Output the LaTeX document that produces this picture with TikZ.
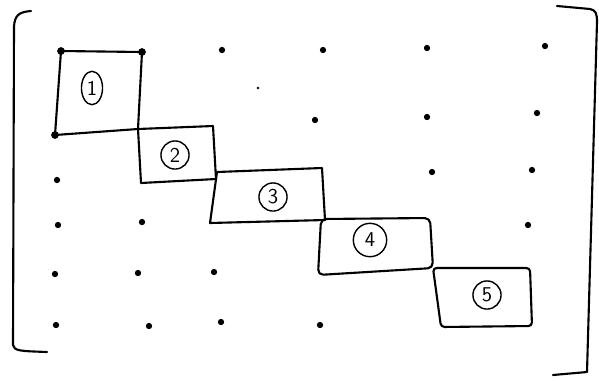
\documentclass[tikz,border=0pt]{standalone}
\usepackage{tikz}
\usetikzlibrary{shapes.geometric}

\begin{document}
\begin{tikzpicture}[x=0.02cm, y=-0.02cm,
    pen/.style={line width=1.2pt, line join=round, line cap=round},
    entry/.style={circle, fill, inner sep=0pt, minimum size=3.6pt},
    blocklabel/.style={draw, circle, line width=0.8pt, inner sep=1pt, minimum size=16pt, font=\sffamily\large}]
        \useasboundingbox (0,0) rectangle (599,380);
        % brackets of the matrix
        \draw[pen] (31,11) .. controls (18,12) and (15,16) .. (14,26) -- (13,345) .. controls (14,351) and (20,351) .. (47,352);
        \draw[pen] (557,6) -- (590,9) .. controls (596,10) and (597,14) .. (597,22) -- (587,372) -- (553,375);
        % diagonal blocks
        \draw[pen] (61,51) -- (142,52) -- (138,129) -- (55,135) -- cycle;
        \draw[pen] (138,129) -- (213,126) -- (216,179) -- (141,183) -- cycle;
        \draw[pen] (217,172) -- (322,168) -- (325,220) -- (210,223) -- cycle;
        \draw[pen, rounded corners=3pt] (321,219) -- (430,218) -- (433,268) -- (318,275) -- cycle;
        \draw[pen, rounded corners=2pt] (433,268) -- (530,268) -- (532,326) -- (441,327) -- cycle;
        \node[blocklabel, ellipse, minimum width=12pt, minimum height=19pt] (b1) at (92,88) {1};
        \node[blocklabel] (b2) at (175,155) {2};
        \node[blocklabel] (b3) at (273,197) {3};
        \node[blocklabel, minimum width=19pt] (b4) at (370,240) {4};
        \node[blocklabel] (b5) at (487,295) {5};
        % corner marks of the first block
        \foreach \p in {(61,51), (142,52), (55,135)}
          \fill \p circle (2.2pt);
        % remaining entries
        \foreach \p in {(222,50), (323,50), (427,48), (545,46),
                        (315,120), (427,117), (537,113),
                        (57,180), (432,172), (532,170),
                        (58,225), (142,222), (528,225),
                        (55,274), (138,273), (214,272),
                        (56,325), (149,326), (221,322), (320,325)}
          \node[entry] at \p {};
        \fill (258,88) circle (0.8pt);
\end{tikzpicture}
\end{document}
